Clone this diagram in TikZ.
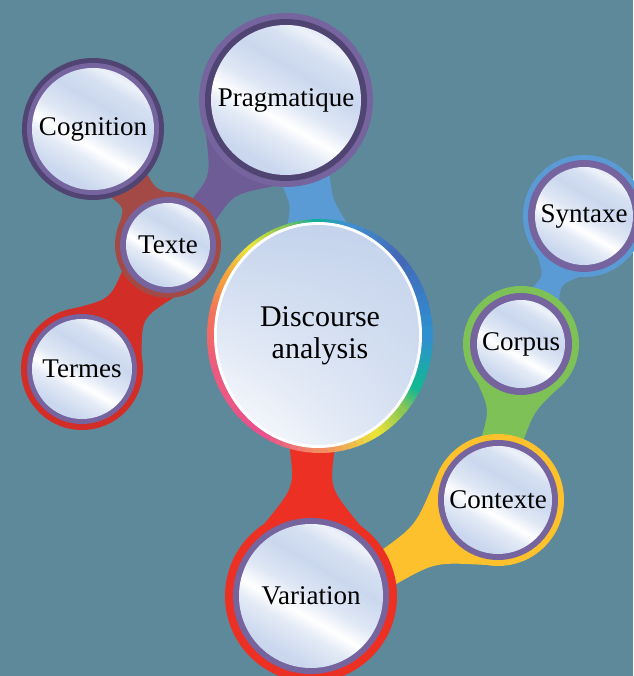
\documentclass[tikz,border=0pt]{standalone}
\usepackage{fontspec}
\setmainfont{Liberation Serif}
\usetikzlibrary{calc,shapes.geometric,shadings}

\definecolor{sea}{RGB}{94,137,154}
\definecolor{fillblue}{RGB}{196,211,236}
\definecolor{ringpurple}{RGB}{117,100,158}
\definecolor{darkpurple}{RGB}{80,68,114}
\definecolor{mapblue}{RGB}{91,155,213}
\definecolor{mapgreen}{RGB}{126,193,86}
\definecolor{mapyellow}{RGB}{252,193,44}
\definecolor{mapred}{RGB}{236,49,36}
\definecolor{termred}{RGB}{210,45,38}
\definecolor{brick}{RGB}{164,74,70}
\definecolor{mapviolet}{RGB}{110,92,150}
% rainbow ring of the hub
\definecolor{rbA}{RGB}{47,143,207}
\definecolor{rbB}{RGB}{68,105,185}
\definecolor{rbC}{RGB}{63,143,208}
\definecolor{rbD}{RGB}{18,174,156}
\definecolor{rbE}{RGB}{142,200,78}
\definecolor{rbF}{RGB}{233,228,59}
\definecolor{rbG}{RGB}{245,162,62}
\definecolor{rbH}{RGB}{242,112,92}
\definecolor{rbI}{RGB}{236,90,130}
\definecolor{rbJ}{RGB}{233,82,140}
\definecolor{rbK}{RGB}{242,140,98}
\definecolor{rbL}{RGB}{234,226,58}
\definecolor{rbM}{RGB}{140,200,82}
\definecolor{rbN}{RGB}{18,183,150}

\pgfdeclarehorizontalshading{silver}{100bp}{color(0bp)=(fillblue); color(28bp)=(fillblue!90!white); color(38bp)=(fillblue!45!white); color(43bp)=(white); color(50bp)=(fillblue!55!white); color(60bp)=(fillblue!90!white); color(68bp)=(fillblue!70!white); color(73bp)=(fillblue!30!white); color(80bp)=(fillblue!85!white); color(100bp)=(fillblue)}

\pgfdeclarelayer{bg}
\pgfsetlayers{bg,main}

\tikzset{
	bubble/.style n args={5}{circle, inner sep=0pt, outer sep=0pt, minimum size=2*#1pt, fill=#2,
		font=\fontsize{27}{30}\selectfont,
		path picture={
			\fill[#3] (path picture bounding box.center) circle (#4pt);
			\shade[shading=silver, shading angle=60] (path picture bounding box.center) circle (#5pt);
		}},
	hub/.style={ellipse, inner sep=0pt, outer sep=0pt, minimum width=226pt, minimum height=234pt,
		align=center, font=\fontsize{30}{32}\selectfont,
		path picture={
			\foreach \a/\b/\ca/\cb in {0/45/rbA/rbB, 45/75/rbB/rbC, 75/92/rbC/rbD, 92/110/rbD/rbE,
				110/128/rbE/rbF, 128/148/rbF/rbG, 148/170/rbG/rbH, 170/200/rbH/rbI, 200/240/rbI/rbJ,
				240/270/rbJ/rbK, 270/300/rbK/rbL, 300/318/rbL/rbM, 318/332/rbM/rbN, 332/360/rbN/rbA}
				\foreach \k in {0,...,7} {
					\pgfmathsetmacro\angA{\a+(\b-\a)*\k/8}
					\pgfmathsetmacro\angB{\a+(\b-\a)*(\k+1)/8+0.4}
					\pgfmathtruncatemacro\pct{100*\k/7}
					\fill[\cb!\pct!\ca] (path picture bounding box.center) -- ++(\angA:130pt)
						arc[start angle=\angA, end angle=\angB, radius=130pt] -- cycle;
				}
			\fill[white] ($(path picture bounding box.center)+(-2pt,1pt)$) ellipse [x radius=104pt, y radius=113pt];
			\shade[upper left=fillblue, upper right=fillblue, lower left=white, lower right=fillblue!70!white]
				($(path picture bounding box.center)+(-2pt,1pt)$) ellipse [x radius=101pt, y radius=110pt];
		}},
}

% tapered band between two bubbles
\newcommand\bridge[8]{%
	\fill[#3] let \p1=($(#1.#4)!0.5!(#2.#6)$), \p2=($(#1.#5)!0.5!(#2.#7)$), \p3=($(\p1)!0.5!(\p2)$) in
		(#1.#4) .. controls ($(\p1)!#8!(\p3)$) .. (#2.#6) -- (#2.#7)
		.. controls ($(\p2)!#8!(\p3)$) .. (#1.#5) -- cycle;}

\begin{document}
\begin{tikzpicture}[x=1pt, y=1pt]
	\useasboundingbox (0,0) rectangle (633,676);

	\node[hub] (disc) at (320,340) {Discourse\\analysis};
	\node[bubble={87}{ringpurple}{darkpurple}{81}{75}] (prag) at (286,576) {Pragmatique};
	\node[bubble={71}{darkpurple}{ringpurple}{66}{61}] (cogn) at (93,547) {Cognition};
	\node[bubble={53}{brick}{ringpurple}{48}{42}] (texte) at (168,431) {Texte};
	\node[bubble={61}{termred}{ringpurple}{55}{50}] (termes) at (82,307) {Termes};
	\node[bubble={61}{mapblue}{ringpurple}{56}{49}] (syn) at (584,460) {Syntaxe};
	\node[bubble={58}{mapgreen}{ringpurple}{51}{44}] (corpus) at (521,332) {Corpus};
	\node[bubble={66}{mapyellow}{ringpurple}{60}{54}] (ctx) at (498,176) {Contexte};
	\node[bubble={86}{mapred}{ringpurple}{78}{72}] (var) at (311,80) {Variation};

	\begin{pgfonlayer}{bg}
		\fill[sea] (0,0) rectangle (633,676);
		\bridge{prag}{disc}{mapblue}{268}{300}{106}{77}{0.2}
		\bridge{prag}{texte}{mapviolet}{203}{262}{62}{27}{0.5}
		\bridge{cogn}{texte}{brick}{285}{320}{163}{69}{0.4}
		\bridge{texte}{termes}{termred}{210}{276}{106}{12}{0.5}
		\bridge{disc}{var}{mapred}{255}{277}{123}{55}{0.5}
		\bridge{var}{ctx}{mapyellow}{33}{8}{159}{260}{0.4}
		\bridge{ctx}{corpus}{mapgreen}{104}{67}{221}{319}{0.3}
		\bridge{corpus}{syn}{mapblue}{78}{49}{220}{266}{0.5}
	\end{pgfonlayer}
\end{tikzpicture}
\end{document}
